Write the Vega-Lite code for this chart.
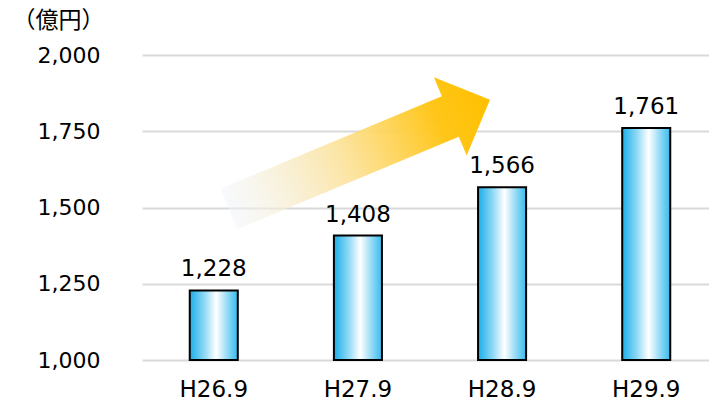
{
  "$schema": "https://vega.github.io/schema/vega-lite/v6.json",
  "width": 567,
  "height": 305,
  "autosize": "none",
  "padding": {"left": 142, "top": 55, "right": 0, "bottom": 41},
  "background": "white",
  "config": {"view": {"stroke": null}, "font": "DejaVu Sans"},
  "datasets": {
    "bars": [
      {"period": "H26.9", "value": 1228},
      {"period": "H27.9", "value": 1408},
      {"period": "H28.9", "value": 1566},
      {"period": "H29.9", "value": 1761}
    ],
    "arrow": [
      {"pos": 1.01, "level": 1674}
    ]
  },
  "layer": [
    {
      "data": {"name": "bars"},
      "encoding": {
        "x": {
          "field": "period", "type": "nominal", "sort": null,
          "scale": {"paddingInner": 0.6667, "paddingOuter": 0.3, "align": 0.552},
          "axis": {"title": null, "domain": false, "ticks": false, "labelAngle": 0, "labelPadding": 18, "labelFontSize": 23, "labelColor": "#000000", "labelFont": "DejaVu Sans"}
        },
        "y": {
          "field": "value", "type": "quantitative",
          "scale": {"domain": [1000, 2000], "zero": false, "nice": false},
          "axis": {
            "values": [1000, 1250, 1500, 1750, 2000],
            "format": ",d",
            "domain": false, "ticks": false,
            "labelPadding": 42, "labelFontSize": 22, "labelColor": "#000000", "labelFont": "DejaVu Sans",
            "gridColor": "#d9d9d9", "gridWidth": 2,
            "title": "（億円）",
            "titleAngle": 0, "titleAlign": "left", "titleBaseline": "middle",
            "titleX": -130, "titleY": -35,
            "titleFont": "Noto Sans CJK JP", "titleFontSize": 23, "titleFontWeight": "normal", "titleColor": "#000000"
          }
        }
      },
      "layer": [
        {
          "mark": {
            "type": "bar",
            "stroke": "black",
            "strokeWidth": 2,
            "fill": {
              "gradient": "linear",
              "x1": 0, "y1": 0, "x2": 1, "y2": 0,
              "stops": [
                {"offset": 0, "color": "#1aaee9"},
                {"offset": 0.3, "color": "#8dd8f5"},
                {"offset": 0.55, "color": "#ffffff"},
                {"offset": 0.8, "color": "#8dd8f5"},
                {"offset": 1, "color": "#36bbee"}
              ]
            }
          },
          "encoding": {
            "y2": {"datum": 1000}
          }
        },
        {
          "mark": {"type": "text", "baseline": "alphabetic", "dy": -14, "fontSize": 23, "font": "DejaVu Sans", "color": "#000000"},
          "encoding": {
            "text": {"field": "value", "type": "quantitative", "format": ",d"}
          }
        }
      ]
    },
    {
      "data": {"name": "arrow"},
      "mark": {
        "type": "point",
        "filled": true,
        "opacity": 1,
        "strokeWidth": 0,
        "shape": "M-1,-0.155L0.696,-0.155L0.696,-0.3L1,0L0.696,0.3L0.696,0.155L-1,0.155Z",
        "size": 80089,
        "angle": 337.3,
        "fill": {
          "gradient": "linear",
          "x1": 0, "y1": 0, "x2": 1, "y2": 0,
          "stops": [
            {"offset": 0, "color": "rgba(240,244,250,0.5)"},
            {"offset": 0.45, "color": "rgba(252,225,150,0.9)"},
            {"offset": 0.8, "color": "#ffc61a"},
            {"offset": 1, "color": "#ffc000"}
          ]
        }
      },
      "encoding": {
        "x": {"field": "pos", "type": "quantitative", "scale": {"domain": [-0.5, 3.4375], "nice": false, "zero": false}, "axis": null},
        "y": {"field": "level", "type": "quantitative"}
      }
    }
  ],
  "resolve": {"scale": {"x": "independent"}}
}
